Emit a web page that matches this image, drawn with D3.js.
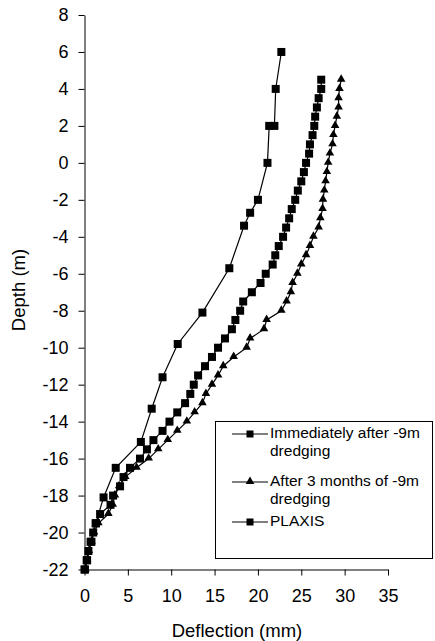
<!DOCTYPE html>
<html>
<head>
<meta charset="utf-8">
<script src="https://cdn.jsdelivr.net/npm/d3@7"></script>
<style>
  body { margin: 0; background: #fff; }
  text { font-family: "Liberation Sans", Arial, sans-serif; fill: #000; }
</style>
</head>
<body>
<svg id="chart"></svg>
<script>
// depth (m) and deflection (mm) for each series
const plaxisDepth = [6, 4, 2, 2, 0, -2, -2.7, -3.4, -5.7, -8.1, -9.8, -11.6, -13.3, -15.1, -16.5, -18.1, -19.5, -20.5, -21.5, -22];
const plaxisDefl  = [22.7, 22.05, 21.9, 21.3, 21.1, 20.0, 19.1, 18.4, 16.7, 13.6, 10.75, 9.0, 7.75, 6.5, 3.6, 2.2, 1.3, 0.7, 0.3, 0];

const measuredDepth = [4.5, 4, 3.5, 3, 2.5, 2, 1.5, 1, 0.5, 0, -0.5, -1, -1.5, -2, -2.5, -3, -3.5, -4, -4.5, -5,
  -5.5, -6, -6.5, -7, -7.5, -8, -8.5, -9, -9.5, -10, -10.5, -11, -11.5, -12, -12.5, -13, -13.5, -14, -14.5, -15,
  -15.5, -16, -16.5, -17, -17.5, -18, -18.5, -19, -19.5, -20, -20.5, -21, -21.5, -22];

const immediateDefl = [27.3, 27.3, 27.0, 26.8, 26.6, 26.5, 26.3, 26.0, 25.9, 25.55, 25.3, 25.0, 24.6, 24.3, 23.9, 23.6, 23.25, 22.9, 22.4, 22.0,
  21.7, 20.9, 20.3, 19.3, 18.3, 17.95, 17.4, 17.0, 16.2, 15.4, 14.7, 13.9, 13.1, 12.6, 12.2, 11.6, 10.7, 9.8, 9.0, 7.95,
  7.2, 6.4, 5.25, 4.5, 4.1, 3.3, 3.0, 1.8, 1.3, 1.0, 0.8, 0.45, 0.25, 0.05];

const threeMonthDefl = [29.6, 29.4, 29.3, 29.3, 29.1, 28.9, 28.7, 28.6, 28.3, 28.1, 27.95, 27.8, 27.65, 27.5, 27.45, 27.2, 27.0, 26.4, 26.0, 25.55,
  25.0, 24.55, 24.0, 23.8, 23.3, 22.7, 21.0, 20.7, 19.1, 18.7, 17.2, 16.0, 15.4, 14.7, 14.0, 13.6, 12.7, 11.8, 10.7, 9.6,
  8.5, 7.4, 6.0, 4.7, 4.0, 3.5, 3.25, 2.75, 1.6, 1.1, 0.8, 0.5, 0.3, 0.1];

const xTicks = [0, 5, 10, 15, 20, 25, 30, 35];
const yTicks = [8, 6, 4, 2, 0, -2, -4, -6, -8, -10, -12, -14, -16, -18, -20, -22];

const legendLabels = [["Immediately after -9m", "dredging"], ["After 3 months of -9m", "dredging"], ["PLAXIS"]];

const width = 435, height = 641;

const svg = d3.select("#chart")
  .attr("width", width)
  .attr("height", height);

const x = d3.scaleLinear().domain([0, 35]).range([84.5, 388]);
const y = d3.scaleLinear().domain([-22, 8]).range([569.5, 15]);

// axes (plain hyphen for negatives, like the original)
const xAxis = d3.axisBottom(x).tickValues(xTicks).tickFormat(d => String(d))
  .tickSize(6).tickSizeOuter(0).tickPadding(14);
const yAxis = d3.axisLeft(y).tickValues(yTicks).tickFormat(d => String(d))
  .tickSize(6).tickSizeOuter(0).tickPadding(10);

const xg = svg.append("g").attr("transform", `translate(0,${y(-22)})`).call(xAxis);
const yg = svg.append("g").attr("transform", `translate(${x(0)},0)`).call(yAxis);

[xg, yg].forEach(g => {
  g.attr("font-size", null).attr("font-family", null);
  g.select(".domain").attr("stroke", "#000");
  g.selectAll(".tick line").attr("stroke", "#000");
  g.selectAll(".tick text").style("font-size", "18px").attr("fill", "#000");
});

svg.append("text")
  .attr("x", 237).attr("y", 637)
  .attr("text-anchor", "middle")
  .style("font-size", "18.5px")
  .text("Deflection (mm)");

svg.append("text")
  .attr("transform", "translate(25,290) rotate(-90)")
  .attr("text-anchor", "middle")
  .style("font-size", "18.5px")
  .text("Depth (m)");

// series
const line = d3.line().x(d => x(d[0])).y(d => y(d[1]));

const series = [
  { pts: d3.zip(immediateDefl, measuredDepth), marker: "square" },
  { pts: d3.zip(threeMonthDefl, measuredDepth), marker: "triangle" },
  { pts: d3.zip(plaxisDefl, plaxisDepth), marker: "square" }
];

const tri = d3.symbol().type(d3.symbolTriangle).size(32);

series.forEach(s => {
  const g = svg.append("g");
  g.append("path")
    .attr("d", line(s.pts))
    .attr("fill", "none")
    .attr("stroke", "#000")
    .attr("stroke-width", 1.2);
  if (s.marker === "square") {
    g.selectAll("rect").data(s.pts).join("rect")
      .attr("x", d => x(d[0]) - 4)
      .attr("y", d => y(d[1]) - 4)
      .attr("width", 8).attr("height", 8)
      .attr("fill", "#000");
  } else {
    g.selectAll("path.m").data(s.pts).join("path")
      .attr("class", "m")
      .attr("d", tri)
      .attr("transform", d => `translate(${x(d[0])},${y(d[1]) - 0.5})`)
      .attr("fill", "#000");
  }
});

// legend
const legend = svg.append("g");
legend.append("rect")
  .attr("x", 215.5).attr("y", 421.5)
  .attr("width", 217).attr("height", 137)
  .attr("fill", "#fff").attr("stroke", "#000");

const rowY = [434, 482, 522];
legendLabels.forEach((lab, i) => {
  const cy = rowY[i];
  legend.append("line")
    .attr("x1", 232).attr("x2", 268)
    .attr("y1", cy).attr("y2", cy)
    .attr("stroke", "#000").attr("stroke-width", 1.2);
  if (i === 1) {
    legend.append("path").attr("d", tri).attr("transform", `translate(250,${cy - 0.5})`);
  } else {
    legend.append("rect").attr("x", 246.5).attr("y", cy - 3.5).attr("width", 7).attr("height", 7);
  }
  lab.forEach((t, j) => {
    legend.append("text")
      .attr("x", 270).attr("y", cy + 4 + j * 18)
      .style("font-size", "15.5px")
      .text(t);
  });
});
</script>
</body>
</html>
